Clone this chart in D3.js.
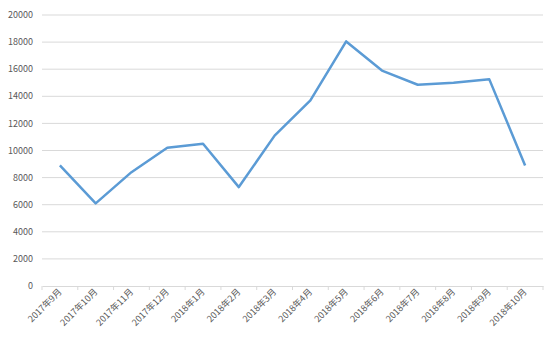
<!DOCTYPE html>
<html>
<head>
<meta charset="utf-8">
<script src="https://cdn.jsdelivr.net/npm/d3@7"></script>
<style>
  body { margin: 0; background: #fff; }
  text { font-family: "Noto Sans CJK SC", "DejaVu Sans", sans-serif; }
</style>
</head>
<body>
<div id="chart"></div>
<script>
let months = ['2017年9月', '2017年10月', '2017年11月', '2017年12月', '2018年1月', '2018年2月', '2018年3月',
	'2018年4月', '2018年5月', '2018年6月', '2018年7月', '2018年8月', '2018年9月', '2018年10月'];
let values = [8900, 6100, 8400, 10200, 10500, 7300, 11100, 13700, 18050, 15900, 14850, 15000, 15250, 8900];
let yTicks = [0, 2000, 4000, 6000, 8000, 10000, 12000, 14000, 16000, 18000, 20000];

let svgWidth = 554
let svgHeight = 345
let padding = { left: 42, right: 11, top: 15, bottom: 59 }

let svg = d3.select('#chart').append('svg')
	.attr('width', svgWidth)
	.attr('height', svgHeight)

let x = d3.scaleBand()
	.domain(months)
	.range([padding.left, svgWidth - padding.right])
let y = d3.scaleLinear()
	.domain([0, 20000])
	.range([svgHeight - padding.bottom, padding.top])

// grid lines
svg.append('g')
	.selectAll('line')
	.data(yTicks.slice(1))
	.enter()
	.append('line')
	.attr('x1', padding.left)
	.attr('x2', svgWidth - padding.right)
	.attr('y1', d => y(d))
	.attr('y2', d => y(d))
	.attr('stroke', '#d9d9d9')
	.attr('stroke-width', 1)

// y axis labels
svg.append('g')
	.selectAll('text')
	.data(yTicks)
	.enter()
	.append('text')
	.attr('x', padding.left - 9)
	.attr('y', d => y(d))
	.attr('dy', '0.35em')
	.attr('text-anchor', 'end')
	.attr('fill', '#595959')
	.attr('font-size', '9px')
	.text(d => d)

// x axis
let axis_x = d3.axisBottom(x).tickSize(0).tickPadding(6)
let gx = svg.append('g')
	.attr('transform', `translate(0, ${y(0)})`)
	.call(axis_x)
gx.select('.domain').attr('stroke', '#d9d9d9')
gx.selectAll('text')
	.attr('fill', '#595959')
	.attr('font-size', '9px')
	.attr('text-anchor', 'end')
	.attr('transform', `translate(${x.bandwidth() / 2 - 22}, 0) rotate(-45)`)
	.attr('dy', '0.35em')

// small boundary ticks
svg.append('g')
	.selectAll('line')
	.data(months.concat(['end']))
	.enter()
	.append('line')
	.attr('x1', (d, i) => padding.left + i * x.step())
	.attr('x2', (d, i) => padding.left + i * x.step())
	.attr('y1', y(0))
	.attr('y2', y(0) + 4)
	.attr('stroke', '#d9d9d9')

// line
let line = d3.line()
	.x((d, i) => x(months[i]) + x.bandwidth() / 2)
	.y(d => y(d))
svg.append('path')
	.datum(values)
	.attr('d', line)
	.attr('fill', 'none')
	.attr('stroke', '#5b9bd5')
	.attr('stroke-width', 2.5)
	.attr('stroke-linejoin', 'round')
</script>
</body>
</html>
